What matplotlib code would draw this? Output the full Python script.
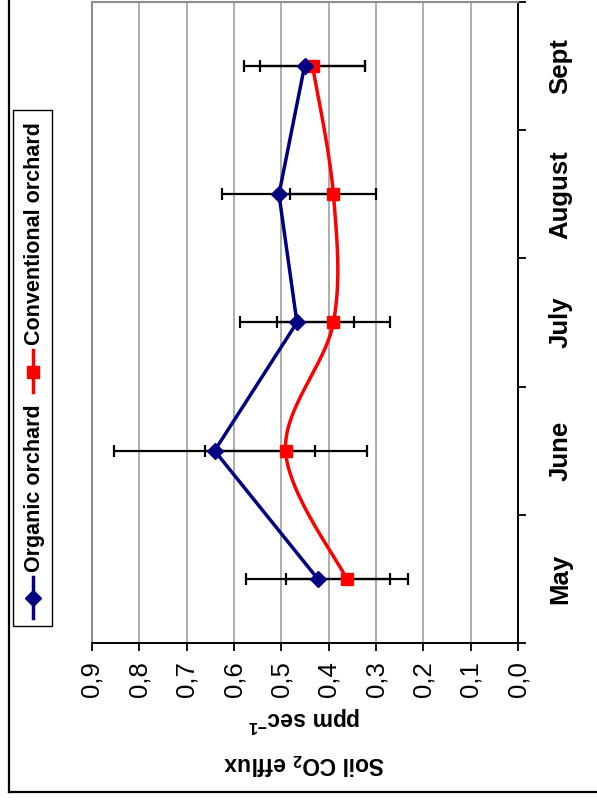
import numpy as np
import matplotlib
matplotlib.use("Agg")
import matplotlib.pyplot as plt
from matplotlib.lines import Line2D
from matplotlib.patches import Rectangle

plt.rcParams['font.family'] = ['Liberation Sans', 'DejaVu Sans']
plt.rcParams['mathtext.fontset'] = 'custom'
plt.rcParams['mathtext.rm'] = 'Liberation Sans'
plt.rcParams['mathtext.bf'] = 'Liberation Sans:bold'

# ---- data ----
months = ['May', 'June', 'July', 'August', 'Sept']
organic = [0.423, 0.641, 0.467, 0.505, 0.451]
organic_err = [0.152, 0.212, 0.120, 0.120, 0.127]
conventional = [0.362, 0.491, 0.390, 0.390, 0.434]
conventional_err = [0.129, 0.171, 0.119, 0.091, 0.111]
value_ticks = [0.0, 0.1, 0.2, 0.3, 0.4, 0.5, 0.6, 0.7, 0.8, 0.9]
value_labels = ['0,0', '0,1', '0,2', '0,3', '0,4', '0,5', '0,6', '0,7', '0,8', '0,9']
series_names = ['Organic orchard', 'Conventional orchard']

W, H = 597, 800
fig = plt.figure(figsize=(W / 100, H / 100), dpi=100)


def fx(x):
    return x / W


def fy(y):
    return 1 - y / H


ax = fig.add_axes([fx(92), fy(643), (518 - 92) / W, (643 - 2) / H])
idx = np.arange(len(months))

ax.set_xlim(0.9, 0.0)
ax.set_ylim(-0.5, len(months) - 0.5)

# gridlines
for v in value_ticks[1:-1]:
    ax.axvline(v, color='#a0a0a0', lw=1.2, zorder=0)

# error bars
ax.errorbar(organic, idx, xerr=organic_err, fmt='none', ecolor='black',
            elinewidth=1.6, capsize=4.3, capthick=1.6, zorder=2)
ax.errorbar(conventional, idx, xerr=conventional_err, fmt='none', ecolor='black',
            elinewidth=1.6, capsize=4.3, capthick=1.6, zorder=2)


# smoothed (Excel-like Catmull-Rom Bezier) curve for conventional
def smooth(xs, ys, n=40):
    P = np.column_stack([xs, ys]).astype(float)
    Pext = np.vstack([P[0], P, P[-1]])
    out = []
    for i in range(len(P) - 1):
        p0, p1, p2, p3 = Pext[i], Pext[i + 1], Pext[i + 2], Pext[i + 3]
        c1 = p1 + (p2 - p0) / 6.0
        c2 = p2 - (p3 - p1) / 6.0
        t = np.linspace(0, 1, n)[:, None]
        seg = ((1 - t) ** 3) * p1 + 3 * ((1 - t) ** 2) * t * c1 + 3 * (1 - t) * t ** 2 * c2 + t ** 3 * p2
        out.append(seg if i == 0 else seg[1:])
    s = np.vstack(out)
    return s[:, 0], s[:, 1]


sx, sy = smooth(conventional, idx)
ax.plot(sx, sy, color='#ff0000', lw=2.5, zorder=3, solid_capstyle='round')
ax.plot(conventional, idx, linestyle='none', marker='s', ms=8.8,
        color='#ff0000', zorder=5)

ax.plot(organic, idx, color='#000080', lw=2.5, zorder=4)
ax.plot(organic, idx, linestyle='none', marker='D', ms=8.2,
        color='#000080', zorder=5)

# spines
for s in ['left', 'top']:
    ax.spines[s].set_color('#8c8c8c')
    ax.spines[s].set_linewidth(1.5)
for s in ['right', 'bottom']:
    ax.spines[s].set_color('black')
    ax.spines[s].set_linewidth(1.4)

# value axis (bottom)
ax.set_xticks(value_ticks)
ax.set_xticklabels(value_labels, rotation=90, fontsize=18.5)
ax.tick_params(axis='x', direction='out', length=6, width=1.3, pad=7, color='black')

# category axis (right)
ax.yaxis.tick_right()
ax.set_yticks(idx)
ax.set_yticklabels(months, rotation=90, fontsize=18.5, fontweight='bold', va='center')
ax.set_yticks(np.arange(-0.5, len(months)), minor=True)
ax.tick_params(axis='y', which='major', length=0, pad=22)
ax.tick_params(axis='y', which='minor', direction='out', length=6, width=1.3, color='black')

# axis title (upside down)
fig.text(fx(305), fy(719), r'ppm sec$^{\mathbf{-1}}$', rotation=180, fontsize=16.5,
         fontweight='bold', ha='center', va='center')
fig.text(fx(304), fy(764), r'Soil CO$_{\mathbf{2}}$ efflux', rotation=180, fontsize=16.5,
         fontweight='bold', ha='center', va='center')

# legend (rotated)
fig.patches.append(Rectangle((fx(12.5), fy(626)), (52 - 12.5) / W, (626 - 110) / H,
                             transform=fig.transFigure, fill=False, ec='black', lw=1.0))
fig.lines.append(Line2D([fx(33), fx(33)], [fy(577), fy(618)], transform=fig.transFigure,
                        color='#000080', lw=2.5))
fig.lines.append(Line2D([fx(33)], [fy(598)], transform=fig.transFigure, marker='D',
                        ms=8.2, color='#000080', linestyle='none'))
fig.text(fx(35), fy(572), series_names[0], rotation=90, fontsize=15.5, fontweight='bold',
         ha='center', va='bottom')
fig.lines.append(Line2D([fx(33), fx(33)], [fy(350), fy(392)], transform=fig.transFigure,
                        color='#ff0000', lw=2.5))
fig.lines.append(Line2D([fx(33)], [fy(372)], transform=fig.transFigure, marker='s',
                        ms=8.8, color='#ff0000', linestyle='none'))
fig.text(fx(35), fy(345), series_names[1], rotation=90, fontsize=15.5, fontweight='bold',
         ha='center', va='bottom')

# outer chart border (left and bottom visible)
fig.lines.append(Line2D([fx(8.5), fx(8.5)], [fy(0), fy(792)], transform=fig.transFigure,
                        color='black', lw=1.6))
fig.lines.append(Line2D([fx(8.5), fx(597)], [fy(792), fy(792)], transform=fig.transFigure,
                        color='black', lw=1.6))

fig.savefig('out.png', dpi=100)
